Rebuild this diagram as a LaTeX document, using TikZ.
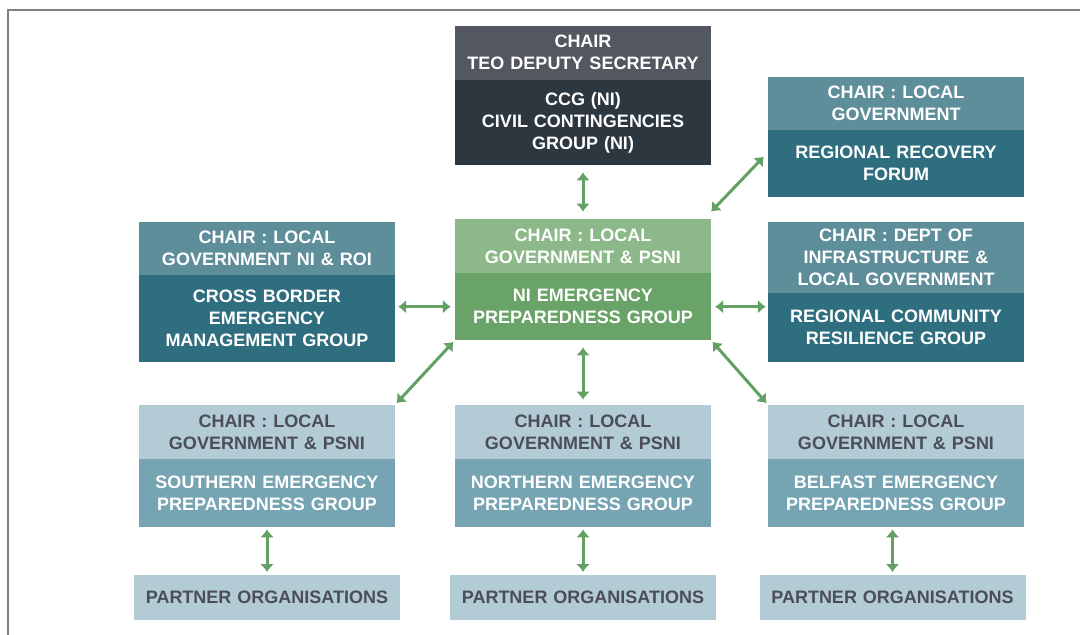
\documentclass[tikz,border=0pt]{standalone}
\usepackage{fontspec}
\setmainfont{Liberation Sans}
\usetikzlibrary{positioning,arrows.meta}

\definecolor{ccghead}{HTML}{53575F}
\definecolor{ccgbody}{HTML}{2D3740}
\definecolor{tealhead}{HTML}{5F8E9B}
\definecolor{tealbody}{HTML}{2F6E7F}
\definecolor{greenhead}{HTML}{8DB889}
\definecolor{greenbody}{HTML}{6AA367}
\definecolor{lighthead}{HTML}{B2CBD4}
\definecolor{lightbody}{HTML}{76A4B3}
\definecolor{greytext}{HTML}{4B4E57}
\definecolor{linkgreen}{HTML}{62A163}
\definecolor{framegrey}{HTML}{808080}

\begin{document}
\begin{tikzpicture}[
                    x=1pt, y=-1pt,
                    node distance=0pt,
                    >={Latex[length=8pt,width=14pt]},
                    box/.style={rectangle, text width=256pt, inner sep=0pt, align=center,
                                font=\bfseries\fontsize{18}{22}\selectfont},
                    darkhead/.style={box, fill=ccghead, text=white},
                    darkbody/.style={box, fill=ccgbody, text=white},
                    tealchair/.style={box, fill=tealhead, text=white},
                    tealgroup/.style={box, fill=tealbody, text=white},
                    greenchair/.style={box, fill=greenhead, text=white},
                    greengroup/.style={box, fill=greenbody, text=white},
                    lightchair/.style={box, fill=lighthead, text=greytext, minimum height=54pt},
                    lightgroup/.style={box, fill=lightbody, text=white, minimum height=68pt},
                    partner/.style={box, text width=266pt, fill=lighthead, text=greytext, minimum height=45pt},
                    link/.style={<->, draw=linkgreen, line width=3pt}
                ]
                \useasboundingbox (0,0) rectangle (1080,635);
                \draw [framegrey, line width=2pt] (8,635) -- (8,10) -- (1080,10);

                % Blocks
                \node [darkbody, minimum height=85pt, anchor=north] (ccg) at (583,80) {CCG (NI)\\CIVIL CONTINGENCIES\\GROUP (NI)};
                \node [darkhead, minimum height=54pt, above=of ccg] (ccgchair) {CHAIR\\TEO DEPUTY SECRETARY};

                \node [tealgroup, minimum height=67pt, anchor=north] (rrf) at (896,130) {REGIONAL RECOVERY\\FORUM};
                \node [tealchair, minimum height=53pt, above=of rrf] (rrfchair) {CHAIR : LOCAL\\GOVERNMENT};

                \node [tealgroup, minimum height=87pt, anchor=north] (cbemg) at (267,275) {CROSS BORDER\\EMERGENCY\\MANAGEMENT GROUP};
                \node [tealchair, minimum height=53pt, above=of cbemg] (cbemgchair) {CHAIR : LOCAL\\GOVERNMENT NI \& ROI};

                \node [greengroup, minimum height=67pt, anchor=north] (niepg) at (583,273) {NI EMERGENCY\\PREPAREDNESS GROUP};
                \node [greenchair, minimum height=54pt, above=of niepg] (nichair) {CHAIR : LOCAL\\GOVERNMENT \& PSNI};

                \node [tealgroup, minimum height=69pt, anchor=north] (rcrg) at (896,293) {REGIONAL COMMUNITY\\RESILIENCE GROUP};
                \node [tealchair, minimum height=71pt, above=of rcrg] (rcrgchair) {CHAIR : DEPT OF\\INFRASTRUCTURE \&\\LOCAL GOVERNMENT};

                \node [lightgroup, anchor=north] (southepg) at (267,459) {SOUTHERN EMERGENCY\\PREPAREDNESS GROUP};
                \node [lightchair, above=of southepg] (southchair) {CHAIR : LOCAL\\GOVERNMENT \& PSNI};

                \node [lightgroup, anchor=north] (northepg) at (583,459) {NORTHERN EMERGENCY\\PREPAREDNESS GROUP};
                \node [lightchair, above=of northepg] (northchair) {CHAIR : LOCAL\\GOVERNMENT \& PSNI};

                \node [lightgroup, anchor=north] (belfastepg) at (896,459) {BELFAST EMERGENCY\\PREPAREDNESS GROUP};
                \node [lightchair, above=of belfastepg] (belfastchair) {CHAIR : LOCAL\\GOVERNMENT \& PSNI};

                \node [partner, anchor=north] (southpo) at (267,575) {PARTNER ORGANISATIONS};
                \node [partner, anchor=north] (northpo) at (583,575) {PARTNER ORGANISATIONS};
                \node [partner, anchor=north] (belfastpo) at (892.5,575) {PARTNER ORGANISATIONS};

                % Connections
                \draw [link, shorten <=7pt, shorten >=7pt] (ccg.south) -- (nichair.north);
                \draw [link] ([yshift=7pt]nichair.north east) -- ([xshift=-4pt,yshift=7pt]rrf.west);
                \draw [link, shorten <=4pt, shorten >=3pt] (niepg.west) -- (niepg.west -| cbemg.east);
                \draw [link, shorten <=4pt, shorten >=2pt] (niepg.east) -- (niepg.east -| rcrg.west);
                \draw [link, shorten <=2pt, shorten >=2pt] (niepg.south west) -- (southchair.north east);
                \draw [link, shorten <=7pt, shorten >=5pt] (niepg.south) -- (northchair.north);
                \draw [link, shorten <=2pt, shorten >=2pt] (niepg.south east) -- (belfastchair.north west);
                \draw [link, shorten <=2pt, shorten >=3pt] (southpo.north |- southepg.south) -- (southpo.north);
                \draw [link, shorten <=2pt, shorten >=3pt] (northepg.south) -- (northpo.north);
                \draw [link, shorten <=2pt, shorten >=3pt] (belfastpo.north |- belfastepg.south) -- (belfastpo.north);
            \end{tikzpicture}
\end{document}
